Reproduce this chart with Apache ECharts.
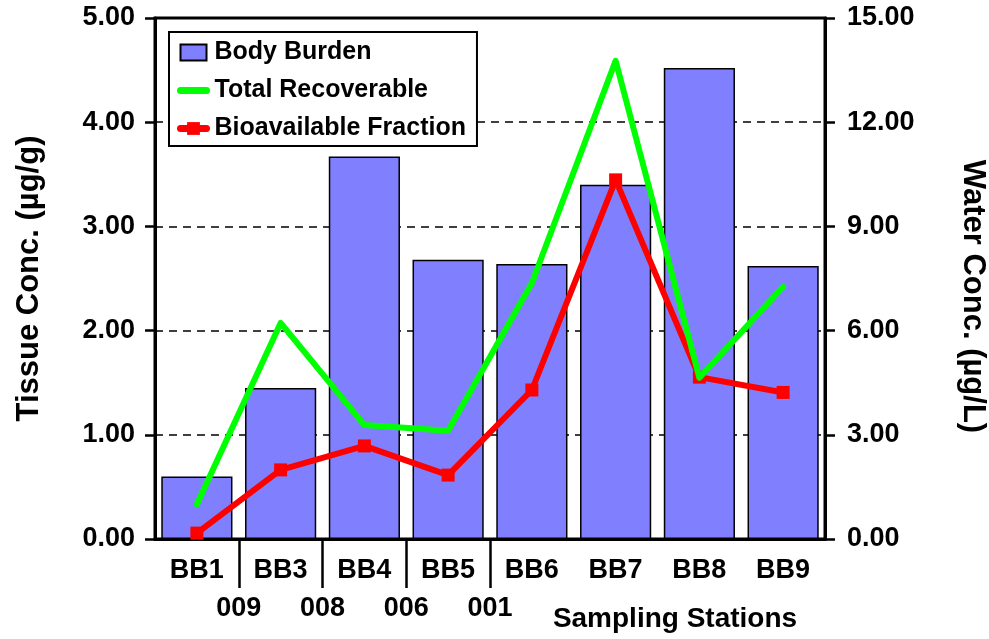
<!DOCTYPE html>
<html>
<head>
<meta charset="utf-8">
<script src="https://cdn.jsdelivr.net/npm/echarts@6/dist/echarts.min.js"></script>
<style>
  html, body { margin: 0; padding: 0; background: #fff; }
  #chart { width: 989px; height: 639px; }
</style>
</head>
<body>
<div id="chart"></div>
<script>
const stations = ['BB1', 'BB3', 'BB4', 'BB5', 'BB6', 'BB7', 'BB8', 'BB9'];
// second label row sits on the boundaries between stations
const groupLabels = ['', '009', '008', '006', '001', '', '', '', ''];
const bodyBurden = [0.60, 1.45, 3.67, 2.68, 2.64, 3.40, 4.52, 2.62];
const totalRecoverable = [1.00, 6.22, 3.28, 3.12, 7.37, 13.77, 4.64, 7.26];
const bioavailable = [0.17, 1.99, 2.68, 1.84, 4.29, 10.34, 4.66, 4.22];

const font = "'Liberation Sans', Arial, sans-serif";
const black = '#000';

const chart = echarts.init(document.getElementById('chart'), null, { renderer: 'canvas' });

const labelStyle = {
  color: black,
  fontFamily: font,
  fontWeight: 'bold',
  fontSize: 27,
};

chart.setOption({
  animation: false,
  backgroundColor: '#fff',
  textStyle: { fontFamily: font },
  grid: {
    left: 155,
    right: 164,
    top: 18,
    bottom: 100,
    containLabel: false,
    outerBoundsMode: 'none',
    show: true,
    borderColor: black,
    borderWidth: 3,
  },
  legend: {
    orient: 'vertical',
    left: 169,
    top: 32,
    itemWidth: 26,
    itemHeight: 16,
    itemGap: 13,
    padding: [8, 11, 5, 8],
    backgroundColor: '#fff',
    borderColor: black,
    borderWidth: 2,
    textStyle: {
      color: black,
      fontFamily: font,
      fontWeight: 'bold',
      fontSize: 25,
      padding: [0, 0, 0, 3],
    },
    data: [
      { name: 'Body Burden', icon: 'rect' },
      {
        name: 'Total Recoverable',
        itemStyle: { opacity: 0 },
        lineStyle: { width: 7, cap: 'round' },
      },
      {
        name: 'Bioavailable Fraction',
        lineStyle: { width: 7, cap: 'round' },
      },
    ],
  },
  xAxis: [
    {
      type: 'category',
      data: stations,
      position: 'bottom',
      boundaryGap: true,
      name: 'Sampling Stations',
      nameLocation: 'middle',
      nameGap: 66,
      nameTextStyle: {
        color: black,
        fontFamily: font,
        fontWeight: 'bold',
        fontSize: 28,
        padding: [0, 0, 0, 370],
      },
      axisLine: { onZero: false, lineStyle: { color: black, width: 3 } },
      axisTick: { alignWithLabel: true, interval: 0, length: 10, lineStyle: { color: black, width: 2.5 } },
      axisLabel: { ...labelStyle, interval: 0, margin: 18 },
      splitLine: { show: false },
    },
    {
      type: 'category',
      data: groupLabels,
      position: 'bottom',
      boundaryGap: false,
      axisLine: { show: false, onZero: false },
      axisTick: {
        show: true,
        interval: (i) => groupLabels[i] !== '',
        length: 49,
        lineStyle: { color: black, width: 2.5 },
      },
      axisLabel: { ...labelStyle, interval: 0, margin: 56 },
      splitLine: { show: false },
    },
  ],
  yAxis: [
    {
      type: 'value',
      position: 'left',
      min: 0,
      max: 5,
      interval: 1,
      name: 'Tissue Conc. (µg/g)',
      nameLocation: 'middle',
      nameGap: 110,
      nameRotate: 90,
      nameTextStyle: { color: black, fontFamily: font, fontWeight: 'bold', fontSize: 31 },
      axisLine: { show: true, lineStyle: { color: black, width: 3 } },
      axisTick: { show: true, length: 10, lineStyle: { color: black, width: 2.5 } },
      axisLabel: { ...labelStyle, margin: 20, formatter: (v) => v.toFixed(2) },
      splitLine: { show: true, lineStyle: { color: black, width: 1.5, type: [8, 6] } },
    },
    {
      type: 'value',
      position: 'right',
      min: 0,
      max: 15,
      interval: 3,
      name: 'Water Conc. (µg/L)',
      nameLocation: 'middle',
      nameGap: 132,
      nameRotate: -90,
      nameTextStyle: {
        color: black,
        fontFamily: font,
        fontWeight: 'bold',
        fontSize: 31,
        padding: [0, 0, 0, 36],
      },
      axisLine: { show: true, lineStyle: { color: black, width: 3 } },
      axisTick: { show: true, length: 10, lineStyle: { color: black, width: 2.5 } },
      axisLabel: { ...labelStyle, margin: 22, formatter: (v) => v.toFixed(2) },
      splitLine: { show: false },
    },
  ],
  series: [
    {
      name: 'Body Burden',
      type: 'bar',
      xAxisIndex: 0,
      yAxisIndex: 0,
      barWidth: '85%',
      data: bodyBurden,
      itemStyle: { color: '#8080ff', borderColor: black, borderWidth: 1.5 },
    },
    {
      name: 'Total Recoverable',
      type: 'line',
      xAxisIndex: 0,
      yAxisIndex: 1,
      data: totalRecoverable,
      symbol: 'none',
      z: 4,
      itemStyle: { color: '#00ff00' },
      lineStyle: { color: '#00ff00', width: 6, cap: 'round', join: 'round' },
    },
    {
      name: 'Bioavailable Fraction',
      type: 'line',
      xAxisIndex: 0,
      yAxisIndex: 1,
      data: bioavailable,
      symbol: 'rect',
      symbolSize: 13,
      z: 3,
      itemStyle: { color: '#ff0000' },
      lineStyle: { color: '#ff0000', width: 6, join: 'round' },
    },
  ],
});
</script>
</body>
</html>
